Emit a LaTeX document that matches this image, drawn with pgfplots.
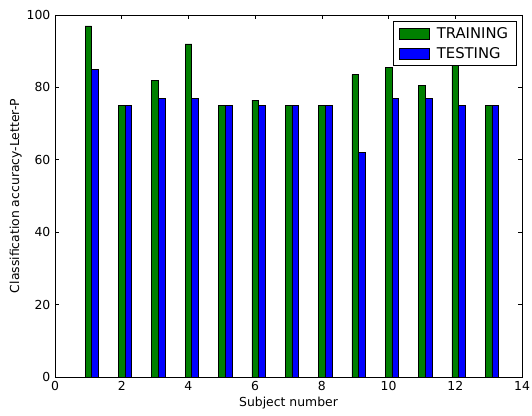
\documentclass[border=0pt]{standalone}
\usepackage{fontspec}
\setmainfont{DejaVu Sans}
\usepackage{pgfplots}
\pgfplotsset{compat=1.18}
\definecolor{mgreen}{rgb}{0,0.5,0}
\definecolor{mblue}{rgb}{0,0,1}
\begin{document}
\begin{tikzpicture}
\path[use as bounding box] (-41.25pt,-29.25pt) rectangle (357.75pt,282.75pt);
\begin{axis}[
  at={(0pt,0pt)}, anchor=south west,
  scale only axis, width=350.25pt, height=271.5pt,
  xmin=0, xmax=14, ymin=0, ymax=100,
  xtick={0,2,...,14}, ytick={0,20,...,100},
  tick align=inside, tick pos=both, major tick length=3pt,
  tick style={black, line width=0.5pt},
  axis line style={black, line width=0.6pt},
  /pgf/number format/assume math mode=true,
  ticklabel style={font=\fontsize{9.3}{11}\selectfont},
  label style={font=\fontsize{9.3}{11}\selectfont},
  xlabel={Subject number},
  ylabel={Classification accuracy-Letter-P},
  xlabel style={at={(axis description cs:0.5,0)}, anchor=center, yshift=-19.5pt},
  ylabel style={at={(axis description cs:-0.0842,0.5)}, anchor=center},
  legend style={at={(axis description cs:1,1)}, anchor=north east, xshift=-4.2pt, yshift=-4.8pt,
    draw=black, line width=0.5pt, font=\fontsize{11.1}{13}\selectfont,
    row sep=1.5pt, inner xsep=4pt, inner ysep=2pt},
  legend cell align=left,
  legend image code/.code={\draw[#1, line width=0.4pt] (0pt,-4pt) rectangle (22.5pt,4pt);},
]
\addplot[ybar, bar width=0.2, bar shift=0, fill=mgreen, draw=black, line width=0.4pt]
  coordinates {(1,97) (2,75) (3,82) (4,92) (5,75) (6,76.5) (7,75) (8,75) (9,83.5) (10,85.5) (11,80.5) (12,88) (13,75)};
\addlegendentry{\ TRAINING}
\addplot[ybar, bar width=0.2, bar shift=0.2, fill=mblue, draw=black, line width=0.4pt]
  coordinates {(1,85) (2,75) (3,77) (4,77) (5,75) (6,75) (7,75) (8,75) (9,62) (10,77) (11,77) (12,75) (13,75)};
\addlegendentry{\ TESTING}
\end{axis}
\end{tikzpicture}
\end{document}
